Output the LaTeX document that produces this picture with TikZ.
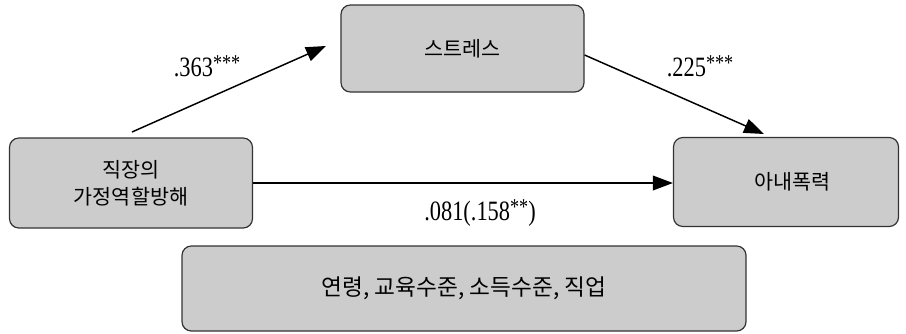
\documentclass[tikz,border=0pt]{standalone}
\usepackage{fontspec}
\setmainfont{Liberation Serif}
\newfontfamily\kor{Noto Sans CJK KR}
\newfontfamily\numfont[FakeStretch=0.8]{Liberation Serif}
\usetikzlibrary{arrows.meta}
\newcommand{\stars}[1]{\raisebox{0.22em}{\fontsize{17}{17}\selectfont #1}}
\begin{document}
\begin{tikzpicture}[x=0.75pt,y=-0.75pt,
  box/.style={draw=black!80, line width=0.9pt, fill=black!20, rounded corners=7pt, inner sep=0pt, align=center, font=\kor\fontsize{15.5}{20}\selectfont},
  conn/.style={line width=1.1pt, -{Triangle[length=15pt,width=11pt]}},
  lbl/.style={font=\numfont\fontsize{21}{21}\selectfont, inner sep=0pt}]
\useasboundingbox (0,0) rectangle (906,333);
\node[box, minimum width=243*0.75pt, minimum height=87*0.75pt] (s) at (462.5,48.5) {스트레스};
\node[box, minimum width=243*0.75pt, minimum height=90*0.75pt] (w) at (131,183) {직장의\\가정역할방해};
\node[box, minimum width=225*0.75pt, minimum height=89*0.75pt] (v) at (786,182) {\hspace*{0.6em}아내폭력};
\node[box, minimum width=564*0.75pt, minimum height=85*0.75pt, font=\kor\fontsize{17}{20}\selectfont] (c) at (464,288.5) {연령, 교육수준, 소득수준, 직업};
\coordinate (a1s) at (132,132);
\coordinate (a1e) at (326,46);
\coordinate (a2e) at (764,134);
\draw[conn] (a1s) -- (a1e);
\draw[conn] (s.east |- 0,55) -- (a2e);
\draw[conn] (w.east |- 0,183) -- (v.west |- 0,183);
\node[lbl] (l1) at (207,66) {.363\stars{***}};
\node[lbl] (l2) at (700,66) {.225\stars{***}};
\node[lbl] (l3) at (480,213) {.081(.158\stars{**})};
\end{tikzpicture}
\end{document}
